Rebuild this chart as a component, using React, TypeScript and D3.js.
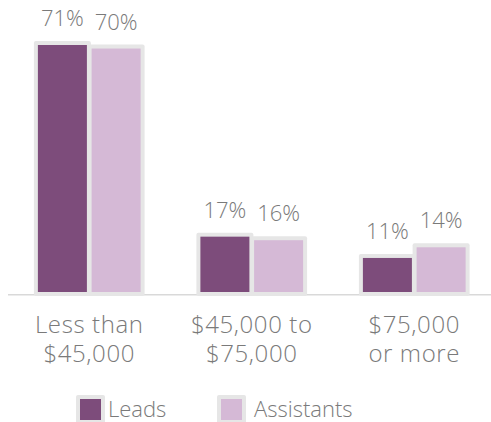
import React, { useEffect, useRef } from "react"
import * as d3 from "d3"

const categories = ["Less than\n$45,000", "$45,000 to\n$75,000", "$75,000\nor more"]
const series = ["Leads", "Assistants"]
const leads = [71, 17, 11]
const assistants = [70, 16, 14]

const colors = ["#7d4c7b", "#d5b9d6"]
const borderColor = "#e6e6e6"
const textColor = "#7a7a7a"
const font = "'Open Sans', Lato, sans-serif"

const App = () => {
  const ref = useRef<SVGSVGElement>(null)

  useEffect(() => {
    const w = 491
    const h = 422
    const svg = d3.select(ref.current)
    svg.selectAll("*").remove()

    const x0 = d3.scaleBand().domain(categories).range([8, 495.5]).paddingInner(0.339).paddingOuter(0.1695)
    const x1 = d3.scaleBand().domain(series).range([0, x0.bandwidth()]).paddingInner(0.0875).paddingOuter(0.04375)
    const y = d3.scaleLinear().domain([0, 71]).range([297, 45])

    const rows = categories.map((c, i) => ({ c, values: [leads[i], assistants[i]] }))
    const cells = rows.flatMap(r => r.values.map((v, j) => ({ c: r.c, s: series[j], v, j })))

    // baseline
    svg.append("line")
      .attr("x1", 8).attr("x2", w)
      .attr("y1", 294.7).attr("y2", 294.7)
      .attr("stroke", "#d9d9d9").attr("stroke-width", 1.5)

    const bx = (d: any) => (x0(d.c) as number) + (x1(d.s) as number)

    // grey frames behind bars
    svg.selectAll("rect.frame")
      .data(cells)
      .enter()
      .append("rect")
      .attr("class", "frame")
      .attr("x", d => bx(d) - 4)
      .attr("y", d => y(d.v) - 4)
      .attr("width", x1.bandwidth() + 8)
      .attr("height", d => 296 - (y(d.v) - 4))
      .attr("rx", 2)
      .attr("fill", borderColor)

    svg.selectAll("rect.bar")
      .data(cells)
      .enter()
      .append("rect")
      .attr("class", "bar")
      .attr("x", d => bx(d))
      .attr("y", d => y(d.v))
      .attr("width", x1.bandwidth())
      .attr("height", d => 292 - y(d.v))
      .attr("fill", d => colors[d.j])

    svg.selectAll("text.val")
      .data(cells)
      .enter()
      .append("text")
      .attr("class", "val")
      .attr("x", d => bx(d) + x1.bandwidth() / 2)
      .attr("y", d => y(d.v) - 19)
      .attr("text-anchor", "middle")
      .attr("font-family", font)
      .attr("font-weight", 300)
      .attr("font-size", 22)
      .attr("fill", textColor)
      .text(d => d.v + "%")

    // category labels
    const cat = svg.selectAll("text.cat")
      .data(categories)
      .enter()
      .append("text")
      .attr("class", "cat")
      .attr("text-anchor", "middle")
      .attr("font-family", font)
      .attr("font-weight", 300)
      .attr("font-size", 24)
      .attr("letter-spacing", 0.6)
      .attr("fill", textColor)
    cat.selectAll("tspan")
      .data(d => d.split("\n").map(t => ({ t, x: (x0(d) as number) + x0.bandwidth() / 2 })))
      .enter()
      .append("tspan")
      .attr("x", d => d.x)
      .attr("y", (d, i) => 333.3 + i * 29)
      .text(d => d.t)

    // legend
    const legendX = [80, 221]
    const lg = svg.selectAll("g.legend")
      .data(series)
      .enter()
      .append("g")
      .attr("class", "legend")
      .attr("transform", (d, i) => "translate(" + legendX[i] + ",399)")
    lg.append("rect")
      .attr("x", -4).attr("y", -4).attr("width", 29).attr("height", 29).attr("rx", 2)
      .attr("fill", borderColor)
    lg.append("rect")
      .attr("width", 21).attr("height", 21)
      .attr("fill", (d, i) => colors[i])
    lg.append("text")
      .attr("x", (d, i) => (i === 0 ? 28 : 33))
      .attr("y", 17.5)
      .attr("font-family", font)
      .attr("font-weight", 300)
      .attr("font-size", 22)
      .attr("fill", textColor)
      .text(d => d)

    svg.attr("width", w).attr("height", h)
  }, [])

  return (
    <div>
      <style>{"body{margin:0;overflow:hidden}"}</style>
      <svg ref={ref} width={491} height={422} style={{ display: "block", background: "#fff" }} />
    </div>
  )
}

export default App
